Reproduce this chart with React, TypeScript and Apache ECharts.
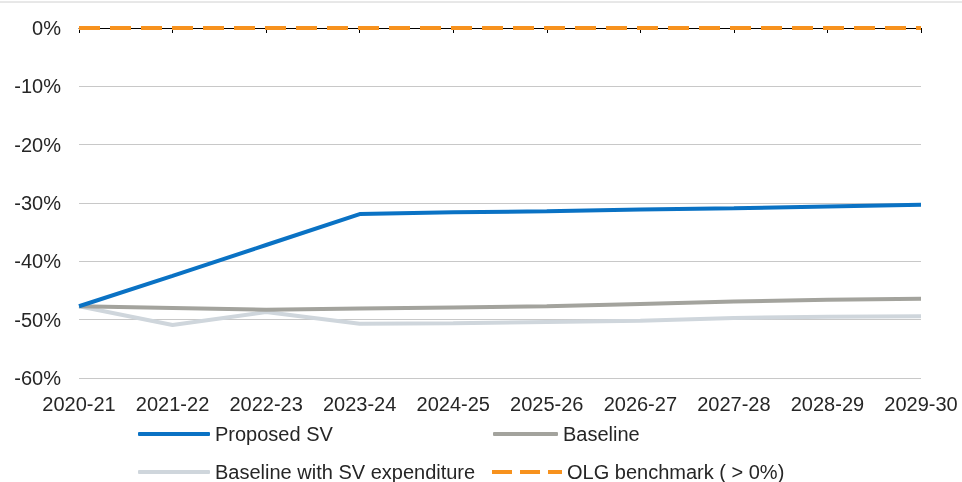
import React, { useEffect, useRef } from "react";
import * as echarts from "echarts";

const categories = ["2020-21", "2021-22", "2022-23", "2023-24", "2024-25", "2025-26", "2026-27", "2027-28", "2028-29", "2029-30"];
const proposedSV = [-47.7, -42.5, -37.2, -31.9, -31.6, -31.4, -31.1, -30.9, -30.6, -30.3];
const baseline = [-47.7, -48.0, -48.3, -48.1, -47.9, -47.7, -47.3, -46.9, -46.6, -46.4];
const baselineWithSV = [-47.7, -50.9, -48.7, -50.7, -50.6, -50.4, -50.2, -49.7, -49.5, -49.4];
const olgBenchmark = [0, 0, 0, 0, 0, 0, 0, 0, 0, 0];
const yTicks = { min: -60, max: 0, interval: 10 };

const FONT = "'Liberation Sans', Arial, sans-serif";
const TXT = "#262626";
const DASH_ICON = "path://M0,0h20v4h-20z M28,0h20v4h-20z M56,0h14v4h-14z";

export default function App() {
  const ref = useRef<HTMLDivElement>(null);
  useEffect(() => {
    if (!ref.current) return;
    const chart = echarts.init(ref.current, null, { renderer: "svg" });
    const legendText = { fontSize: 20, fontFamily: FONT, color: TXT };
    const mkLegend = (name: string, left: number, top: number, w: number, icon: string) => ({
      data: [{ name, icon }],
      left,
      top,
      itemWidth: w,
      itemHeight: 4,
      itemGap: 0,
      textStyle: legendText,
      selectedMode: false,
      padding: 0,
    });
    chart.setOption({
      animation: false,
      textStyle: { fontFamily: FONT },
      grid: { left: 79, right: 41, top: 28, bottom: 104, containLabel: false },
      graphic: [
        { type: "line", shape: { x1: 0, y1: 2, x2: 962, y2: 2 }, style: { stroke: "#d0d0d0", lineWidth: 1 } },
      ],
      legend: [
        mkLegend("Proposed SV", 138, 424, 72, "roundRect"),
        mkLegend("Baseline", 493, 424, 65, "roundRect"),
        mkLegend("Baseline with SV expenditure", 138, 462, 72, "roundRect"),
        mkLegend("OLG benchmark ( > 0%)", 492, 462, 70, DASH_ICON),
      ],
      xAxis: [
        {
          type: "category",
          data: categories,
          boundaryGap: false,
          position: "bottom",
          axisLine: { show: false },
          axisTick: { show: false },
          axisLabel: { fontSize: 20, fontFamily: FONT, color: TXT, margin: 16, interval: 0 },
        },
        {
          type: "category",
          data: categories,
          boundaryGap: false,
          position: "top",
          axisLine: { show: true, onZero: false, lineStyle: { color: "#000", width: 1 } },
          axisTick: { show: true, inside: true, length: 5, interval: 0, lineStyle: { color: "#000" } },
          axisLabel: { show: false },
        },
      ],
      yAxis: {
        type: "value",
        min: yTicks.min,
        max: yTicks.max,
        interval: yTicks.interval,
        axisLine: { show: false },
        axisTick: { show: false },
        axisLabel: { fontSize: 20, fontFamily: FONT, color: TXT, margin: 18, formatter: "{value}%" },
        splitLine: { lineStyle: { color: "#c8c8c8", width: 1 } },
      },
      series: [
        {
          name: "Proposed SV",
          type: "line",
          data: proposedSV,
          symbol: "none",
          lineStyle: { color: "#0a72c4", width: 4 },
          itemStyle: { color: "#0a72c4" },
          z: 5,
        },
        {
          name: "Baseline",
          type: "line",
          data: baseline,
          symbol: "none",
          lineStyle: { color: "#a3a39d", width: 4 },
          itemStyle: { color: "#a3a39d" },
          z: 4,
        },
        {
          name: "Baseline with SV expenditure",
          type: "line",
          data: baselineWithSV,
          symbol: "none",
          lineStyle: { color: "#cfd6dc", width: 4 },
          itemStyle: { color: "#cfd6dc" },
          z: 3,
        },
        {
          name: "OLG benchmark ( > 0%)",
          type: "line",
          data: olgBenchmark,
          symbol: "none",
          lineStyle: { color: "#f7921e", width: 4, type: [21, 10] },
          itemStyle: { color: "#f7921e" },
          z: 6,
        },
      ],
    });
    return () => chart.dispose();
  }, []);
  return <div ref={ref} style={{ position: "fixed", left: 0, top: 0, width: 962, height: 482 }} />;
}
